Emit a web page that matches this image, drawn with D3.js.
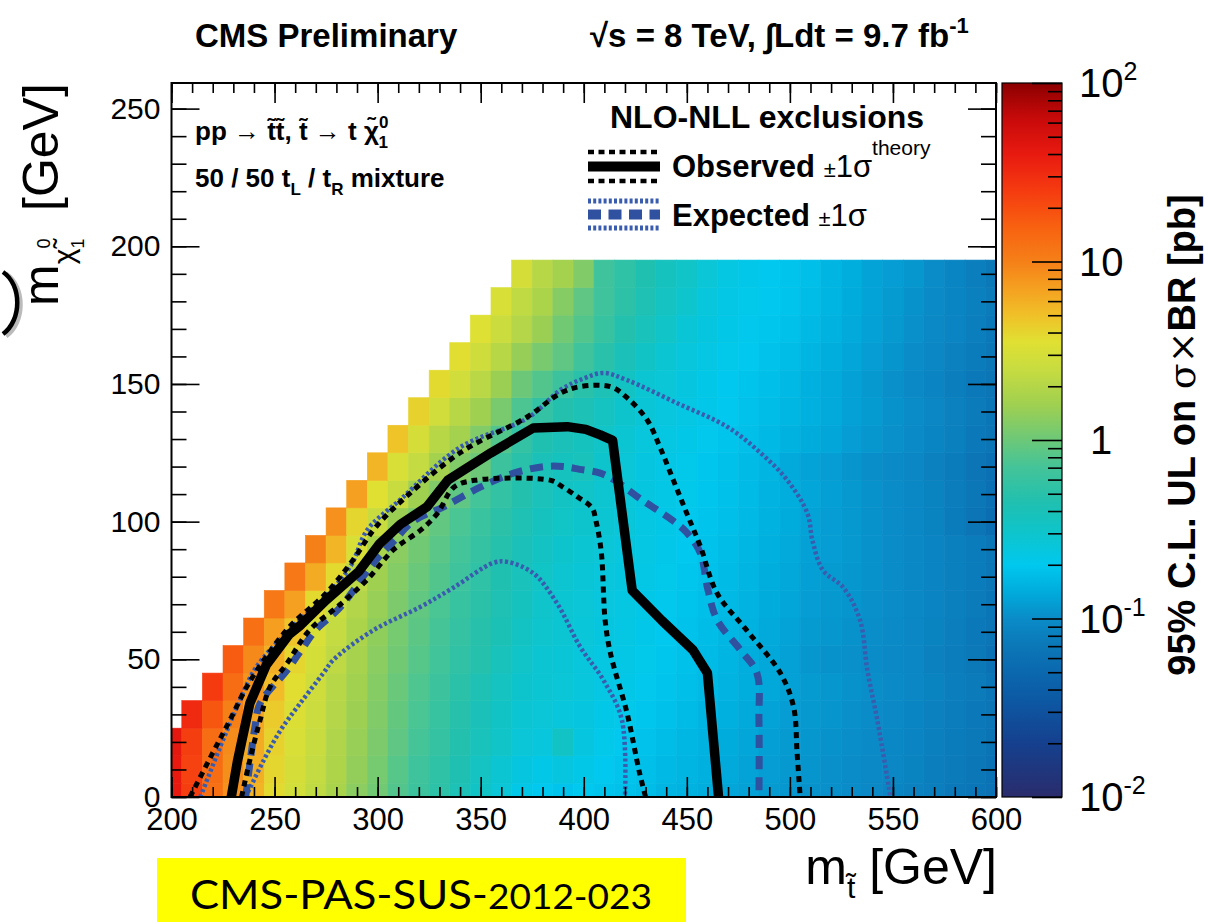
<!DOCTYPE html>
<html>
<head>
<meta charset="utf-8">
<script src="https://cdn.jsdelivr.net/npm/d3@7"></script>
<style>
body { margin: 0; background: #fff; }
text { font-family: "Liberation Sans", Arial, Helvetica, sans-serif; fill: #000; }
</style>
</head>
<body>
<svg width="1205" height="922"></svg>
<script>
// stop mass bins (GeV) and LSP mass rows (GeV)
var xBins = [200,210,220,230,240,250,260,270,280,290,300,310,320,330,340,350,360,370,380,390,
             400,410,420,430,440,450,460,470,480,490,500,510,520,530,540,550,560,570,580,590,600];
var yRows = [0,10,20,30,40,50,60,70,80,90,100,110,120,130,140,150,160,170,180,190];
// first stop mass filled in each row
var rowStart = [200,200,200,210,220,230,240,250,260,270,280,290,300,310,320,330,340,350,360,370];

// log10 of the 95% CL upper limit on sigma x BR [pb], read per cell
var ulLog10 = [
  [1.60,1.38,1.10,0.92,0.76,0.58,0.46,0.36,0.25,0.12, 0.02,-0.10,-0.20,-0.28,-0.38,-0.48,-0.58,-0.66,-0.70,-0.72,
   -0.70,-0.72,-0.74,-0.76,-0.80,-0.82,-0.84,-0.88,-0.90,-0.93, -0.95,-0.97,-0.98,-1.00,-1.02,-1.05,-1.08,-1.10,-1.14,-1.17, -1.20],
  [1.60,1.36,1.12,0.93,0.78,0.60,0.48,0.38,0.27,0.15, 0.04,-0.08,-0.18,-0.27,-0.36,-0.46,-0.55,-0.62,-0.66,-0.62,
   -0.66,-0.70,-0.72,-0.75,-0.78,-0.80,-0.83,-0.86,-0.89,-0.92, -0.94,-0.96,-0.98,-1.00,-1.02,-1.04,-1.07,-1.10,-1.13,-1.16, -1.20],
  [1.62,1.38,1.12,0.95,0.80,0.62,0.50,0.40,0.28,0.17, 0.06,-0.05,-0.15,-0.24,-0.33,-0.42,-0.50,-0.58,-0.60,-0.48,
   -0.62,-0.68,-0.70,-0.73,-0.76,-0.79,-0.82,-0.85,-0.88,-0.91, -0.93,-0.95,-0.97,-0.99,-1.01,-1.03,-1.06,-1.09,-1.12,-1.15, -1.19],
  [1.50,1.25,1.00,0.82,0.65,0.52,0.42,0.30,0.19, 0.08,-0.03,-0.13,-0.22,-0.31,-0.40,-0.48,-0.55,-0.58,-0.60,
   -0.62,-0.66,-0.68,-0.71,-0.74,-0.77,-0.80,-0.83,-0.86,-0.89, -0.92,-0.94,-0.96,-0.98,-1.00,-1.02,-1.05,-1.08,-1.11,-1.14, -1.18],
  [1.40,1.12,0.90,0.72,0.56,0.44,0.32,0.21, 0.10,-0.01,-0.11,-0.20,-0.29,-0.37,-0.45,-0.52,-0.56,-0.58,
   -0.60,-0.64,-0.66,-0.69,-0.72,-0.75,-0.78,-0.81,-0.84,-0.87, -0.90,-0.93,-0.95,-0.97,-0.99,-1.01,-1.04,-1.07,-1.10,-1.13, -1.17],
  [1.22,0.96,0.78,0.60,0.47,0.35,0.23, 0.12,0.02,-0.08,-0.17,-0.26,-0.32,-0.42,-0.50,-0.55,-0.57,
   -0.60,-0.63,-0.65,-0.68,-0.71,-0.74,-0.77,-0.80,-0.84,-0.87, -0.90,-0.95,-0.97,-0.98,-1.00,-1.02,-1.04,-1.08,-1.11,-1.15, -1.20],
  [1.10,0.86,0.68,0.50,0.38,0.26, 0.14,0.04,-0.06,-0.15,-0.24,-0.31,-0.39,-0.47,-0.53,-0.56,
   -0.59,-0.62,-0.64,-0.67,-0.70,-0.73,-0.76,-0.79,-0.82,-0.86, -0.89,-0.93,-0.95,-0.97,-0.99,-1.01,-1.04,-1.07,-1.10,-1.14, -1.18],
  [1.05,0.85,0.58,0.42,0.29, 0.17,0.06,-0.04,-0.13,-0.22,-0.29,-0.37,-0.44,-0.51,-0.55,
   -0.58,-0.61,-0.63,-0.66,-0.69,-0.72,-0.75,-0.78,-0.81,-0.85, -0.88,-0.92,-0.94,-0.96,-0.98,-1.00,-1.03,-1.06,-1.09,-1.13, -1.17],
  [1.05,0.80,0.58,0.34, 0.20,0.09,-0.01,-0.10,-0.19,-0.27,-0.35,-0.42,-0.49,-0.54,
   -0.57,-0.60,-0.62,-0.65,-0.68,-0.71,-0.74,-0.77,-0.80,-0.84, -0.87,-0.91,-0.93,-0.95,-0.97,-1.00,-1.03,-1.06,-1.09,-1.12, -1.16],
  [1.00,0.75,0.50, 0.25,0.12,0.02,-0.07,-0.16,-0.24,-0.32,-0.40,-0.47,-0.52,
   -0.55,-0.58,-0.61,-0.64,-0.67,-0.70,-0.73,-0.76,-0.79,-0.83, -0.86,-0.90,-0.92,-0.94,-0.97,-1.00,-1.03,-1.06,-1.09,-1.12, -1.16],
  [0.92,0.60, 0.40,0.18,0.06,-0.04,-0.13,-0.21,-0.29,-0.37,-0.44,-0.49,
   -0.52,-0.56,-0.59,-0.63,-0.66,-0.69,-0.72,-0.75,-0.78,-0.82, -0.85,-0.89,-0.92,-0.94,-0.97,-1.00,-1.03,-1.07,-1.12,-1.18, -1.25],
  [0.85, 0.55,0.40,0.20,0.08,-0.05,-0.16,-0.25,-0.33,-0.41,-0.47,
   -0.50,-0.54,-0.58,-0.62,-0.65,-0.68,-0.71,-0.74,-0.77,-0.81, -0.84,-0.88,-0.91,-0.94,-0.97,-1.00,-1.03,-1.07,-1.11,-1.16, -1.22],
  [0.75,0.50,0.38,0.22,0.08,0.00,-0.20,-0.30,-0.40,-0.44,
   -0.42,-0.52,-0.58,-0.62,-0.65,-0.68,-0.71,-0.74,-0.77,-0.80, -0.86,-0.89,-0.92,-0.96,-0.99,-1.01,-1.04,-1.08,-1.12,-1.18, -1.22],
  [0.68,0.48,0.32,0.22,0.08,-0.10,-0.25,-0.35,-0.40,
   -0.44,-0.50,-0.56,-0.60,-0.63,-0.66,-0.69,-0.72,-0.75,-0.78, -0.82,-0.85,-0.88,-0.92,-0.95,-0.98,-1.01,-1.05,-1.09,-1.14, -1.18],
  [0.62,0.45,0.32,0.20,0.05,-0.12,-0.25,-0.33,
   -0.38,-0.45,-0.52,-0.57,-0.61,-0.64,-0.67,-0.70,-0.73,-0.76, -0.79,-0.83,-0.86,-0.90,-0.93,-0.97,-1.00,-1.04,-1.08,-1.13, -1.17],
  [0.58,0.45,0.33,0.18,0.00,-0.10,-0.20,
   -0.30,-0.38,-0.47,-0.55,-0.58,-0.62,-0.66,-0.70,-0.72,-0.75, -0.78,-0.83,-0.86,-0.90,-0.94,-0.98,-1.02,-1.06,-1.10,-1.14, -1.18],
  [0.56,0.44,0.32,0.16,0.05,-0.05,
   -0.18,-0.30,-0.40,-0.48,-0.55,-0.60,-0.64,-0.68,-0.70,-0.73, -0.76,-0.80,-0.84,-0.88,-0.92,-0.96,-1.00,-1.04,-1.08,-1.12, -1.16],
  [0.54,0.42,0.30,0.18,0.02,
   -0.10,-0.22,-0.33,-0.42,-0.50,-0.57,-0.62,-0.66,-0.69,-0.71, -0.74,-0.78,-0.82,-0.86,-0.90,-0.94,-0.98,-1.02,-1.06,-1.10, -1.14],
  [0.50,0.36,0.26,0.10,
   -0.05,-0.18,-0.28,-0.37,-0.46,-0.53,-0.60,-0.65,-0.68,-0.70, -0.72,-0.76,-0.80,-0.85,-0.89,-0.93,-0.97,-1.01,-1.05,-1.09, -1.13],
  [0.48,0.32,0.22,
   0.08,-0.18,-0.27,-0.35,-0.44,-0.50,-0.58,-0.63,-0.67,-0.70, -0.72,-0.75,-0.80,-0.84,-0.89,-0.92,-0.95,-1.00,-1.05,-1.10, -1.15]
];

// exclusion contours [m_stop, m_LSP] in GeV
var obsCentral = [[229,0],[232,13],[238,34],[246,48],[257,59],[262,62],[275,71.5],[291,82],[301,92],[311,99],
  [324,105.4],[334,115],[355,125],[375.5,134],[392,134.5],[401,133.5],[408,131.5],[414,129.5],
  [423.5,75],[438,64],[453,53.4],[460,45],[465.4,0]];
var obsUp = [[209,0],[220,16],[228.4,28],[236.5,40],[246,51],[257.5,62],[275,74],[288,86],[298,97],[308,105],
  [340,125],[372.5,138],[388.6,146.6],[398,149],[413,149],[421,145],[430.7,137],[437,127],[443.5,115],
  [450,103],[456.6,91],[464.7,74],[479,60.6],[495.4,45],[501.8,32.7],[503.5,16],[505,0]];
var obsDown = [[234,0],[238,13.4],[243,28],[247.8,40],[256,48.5],[267,60.6],[282,70],[295,79],[308,90],[321,97],
  [329,103],[337,112.5],[347,115],[384,115],[389,113],[397,109],[404,105],[406,100],[408.5,89],[410.4,64],
  [413,52],[421,30.5],[427,9],[430,0]];
var expCentral = [[236,0],[238,12],[240.5,25.5],[243,34],[256,46],[263,53.4],[270,60.6],[282,69],[298,85],
  [308,93],[317,100],[332,105.4],[350,112.6],[366,117.6],[381,120],[390,120],[398,119],[408,117.6],
  [415,115],[428,108],[443,100.5],[450,96],[456.6,88.6],[460,76],[464.7,64.3],[476,53.4],[484,45],
  [485,28],[485,0]];
var expUp = [[214,0],[223.5,18],[232,33],[241,47],[259,62],[275,73],[287,84],[295,97],[311,108],[340,127],
  [372.5,137.5],[389,148],[400,152],[409.5,154],[421,151.4],[445.4,143],[469.7,134.4],[485.7,125],
  [498.8,115],[508.5,103],[511,93],[516,82.4],[526,76],[534,64.3],[537.6,46],[542.4,28],[548.8,0]];
var expDown = [[236,0],[244.5,13],[252.7,24],[262.4,34],[273.7,45],[278.4,49.7],[298,60.6],[320.6,69],
  [336.7,76],[356,85],[362.8,85.4],[375.5,81.3],[387,70.4],[398.3,54.5],[409.5,42.5],[418.5,28],[420,0]];

var xTicks = [200,250,300,350,400,450,500,550,600];
var yTicks = [0,50,100,150,200,250];
var zTicks = [0.01,0.1,1,10,100];
var zTickLabels = [["10","-2"],["10","-1"],["1",""],["10",""],["10","2"]];

// palette stops (log10 pb) -> colour
var palStops  = [-2,-1.7,-1.4,-1.15,-1,-0.85,-0.7,-0.5,-0.35,-0.15,0,0.2,0.4,0.55,0.7,0.85,1,1.2,1.4,1.6,1.8,2];
var palColors = ["#2a2c6c","#15408e","#0b5ea8","#0b78b8","#0a8cc8","#00acdc","#00c8ee","#10c4c8","#20c0b0",
                 "#45c498","#6cc878","#a0d050","#c8dc40","#e0e032","#f0c028","#f5a020","#f58018","#f86010",
                 "#f53a10","#e81a10","#c80a0a","#8c0000"];

var svg = d3.select("svg");

var x = d3.scaleLinear().domain([200, 600]).range([171.5, 996]);
var y = d3.scaleLinear().domain([0, 259.3]).range([797, 83]);
var z = d3.scaleLog().domain([0.01, 100]).range([797, 83]);
var color = d3.scaleLinear().domain(palStops).range(palColors).clamp(true);

var defs = svg.append("defs");
defs.append("clipPath").attr("id", "plotClip")
  .append("rect")
  .attr("x", x(200)).attr("y", y(259.3))
  .attr("width", x(600) - x(200)).attr("height", y(0) - y(259.3));

var grad = defs.append("linearGradient").attr("id", "zGrad")
  .attr("x1", 0).attr("y1", 1).attr("x2", 0).attr("y2", 0);
palStops.forEach(function(s, i) {
  grad.append("stop").attr("offset", (s + 2) / 4).attr("stop-color", palColors[i]);
});

// heat map cells
var cells = [];
yRows.forEach(function(my, i) {
  var k0 = xBins.indexOf(rowStart[i]);
  ulLog10[i].forEach(function(v, j) {
    cells.push({mx: xBins[k0 + j], my: my, v: v});
  });
});

svg.append("g").attr("clip-path", "url(#plotClip)")
  .selectAll("rect").data(cells).enter().append("rect")
  .attr("x", function(d) { return x(d.mx - 5); })
  .attr("y", function(d) { return y(d.my + 5); })
  .attr("width", function(d) { return x(d.mx + 5) - x(d.mx - 5); })
  .attr("height", function(d) { return y(d.my - 5) - y(d.my + 5); })
  .attr("fill", function(d) { return color(d.v); })
  .attr("stroke", function(d) { return color(d.v); })
  .attr("stroke-width", 0.6);

// contours
var line = d3.line().x(function(d) { return x(d[0]); }).y(function(d) { return y(d[1]); });
var smooth = d3.line().x(function(d) { return x(d[0]); }).y(function(d) { return y(d[1]); })
  .curve(d3.curveCatmullRom.alpha(0.5));

var cg = svg.append("g").attr("clip-path", "url(#plotClip)").attr("fill", "none");
[expUp, expDown].forEach(function(c) {
  cg.append("path").attr("d", smooth(c))
    .attr("stroke", "#3a5cae").attr("stroke-width", 4.5).attr("stroke-dasharray", "3,2.5");
});
cg.append("path").attr("d", smooth(expCentral))
  .attr("stroke", "#3050a0").attr("stroke-width", 7).attr("stroke-dasharray", "13,8");
[obsUp, obsDown].forEach(function(c) {
  cg.append("path").attr("d", smooth(c))
    .attr("stroke", "#000").attr("stroke-width", 5).attr("stroke-dasharray", "6,5");
});
cg.append("path").attr("d", line(obsCentral))
  .attr("stroke", "#000").attr("stroke-width", 9.5).attr("stroke-linejoin", "round");

// frame and axes
svg.append("rect")
  .attr("x", x(200)).attr("y", y(259.3))
  .attr("width", x(600) - x(200)).attr("height", y(0) - y(259.3))
  .attr("fill", "none").attr("stroke", "#000").attr("stroke-width", 2);

var xMinor = d3.range(200, 601, 10);
var yMinor = d3.range(0, 251, 10);

function drawAxis(axis, tx, ty, labels) {
  var g = svg.append("g").attr("transform", "translate(" + tx + "," + ty + ")").call(axis);
  g.select(".domain").remove();
  g.selectAll(".tick line").attr("stroke", "#000").attr("stroke-width", 1.6);
  g.selectAll("text").attr("font-family", null).attr("font-size", null);
  if (!labels) g.selectAll("text").remove();
  return g;
}

drawAxis(d3.axisBottom(x).tickValues(xMinor).tickSize(-10).tickSizeOuter(0), 0, y(0), false);
drawAxis(d3.axisTop(x).tickValues(xMinor).tickSize(-10).tickSizeOuter(0), 0, y(259.3), false);
drawAxis(d3.axisTop(x).tickValues(xTicks).tickSize(-20).tickSizeOuter(0), 0, y(259.3), false);
var xa = drawAxis(d3.axisBottom(x).tickValues(xTicks).tickSize(-20).tickSizeOuter(0).tickPadding(11), 0, y(0), true);
xa.selectAll("text").style("font-size", "31px");

drawAxis(d3.axisLeft(y).tickValues(yMinor).tickSize(-15).tickSizeOuter(0), x(200), 0, false);
drawAxis(d3.axisRight(y).tickValues(yMinor).tickSize(-15).tickSizeOuter(0), x(600), 0, false);
drawAxis(d3.axisRight(y).tickValues(yTicks).tickSize(-28).tickSizeOuter(0), x(600), 0, false);
var ya = drawAxis(d3.axisLeft(y).tickValues(yTicks).tickSize(-28).tickSizeOuter(0).tickPadding(11), x(200), 0, true);
ya.selectAll("text").style("font-size", "30px");

// colour bar
svg.append("rect").attr("x", 1002).attr("y", z(100)).attr("width", 60).attr("height", z(0.01) - z(100))
  .attr("fill", "url(#zGrad)").attr("stroke", "#000").attr("stroke-width", 1.2);
var zMinor = [];
[-2, -1, 0, 1].forEach(function(e) {
  d3.range(2, 10).forEach(function(k) { zMinor.push(k * Math.pow(10, e)); });
});
drawAxis(d3.axisRight(z).tickValues(zMinor).tickSize(-14).tickSizeOuter(0), 1062, 0, false);
drawAxis(d3.axisRight(z).tickValues(zTicks).tickSize(-30).tickSizeOuter(0), 1062, 0, false);

var zl = svg.append("g").selectAll("text").data(zTicks).enter().append("text")
  .attr("x", function(d) { return d === 1 ? 1090 : 1079; })
  .attr("y", function(d) { return z(d) + 14; })
  .style("font-size", "40px");
zl.append("tspan").text(function(d, i) { return zTickLabels[i][0]; });
zl.append("tspan").attr("dy", -17).style("font-size", "25px")
  .text(function(d, i) { return zTickLabels[i][1]; });

var zt = svg.append("text").attr("transform", "translate(1195,435) rotate(-90)")
  .attr("text-anchor", "middle").style("font-size", "38px").style("font-weight", "bold");
zt.append("tspan").text("95% C.L. UL on ");
zt.append("tspan").style("font-family", "DejaVu Serif").style("font-weight", "normal").text("σ×");
zt.append("tspan").text("BR [pb]");

// axis titles
var xt = svg.append("text").attr("x", 997).attr("y", 884).attr("text-anchor", "end").style("font-size", "50px");
xt.append("tspan").text("m");
xt.append("tspan").attr("dy", 14).style("font-size", "30px").text("t\u0303");
xt.append("tspan").attr("dy", -14).text(" [GeV]");

var yt = svg.append("text").attr("transform", "translate(58,306) rotate(-90)").style("font-size", "50px");
yt.append("tspan").text("m");
yt.append("tspan").attr("dy", 16).style("font-size", "30px").text("\u03c7\u0303");
yt.append("tspan").attr("dy", -24).style("font-size", "18px").text("0");
yt.append("tspan").attr("dx", -10).attr("dy", 34).style("font-size", "18px").text("1");
svg.append("text").attr("transform", "translate(58,211) rotate(-90)").style("font-size", "50px").text("[GeV]");

// header
svg.append("text").attr("x", 195).attr("y", 47).style("font-size", "33px").style("font-weight", "bold")
  .text("CMS Preliminary");
var hr = svg.append("text").attr("x", 590).attr("y", 47).style("font-size", "33px").style("font-weight", "bold");
hr.append("tspan").text("\u221as = 8 TeV, \u222bLdt = 9.7 fb");
hr.append("tspan").attr("dy", -14).style("font-size", "22px").text("-1");

// process labels
var p1 = svg.append("text").attr("x", 195).attr("y", 140).style("font-size", "26px").style("font-weight", "bold");
p1.append("tspan").text("pp \u2192 t\u0303t\u0303, t\u0303 \u2192 t \u03c7\u0303");
p1.append("tspan").attr("dy", -12).style("font-size", "17px").text("0");
p1.append("tspan").attr("dx", -10).attr("dy", 20).style("font-size", "17px").text("1");
var p2 = svg.append("text").attr("x", 195).attr("y", 187).style("font-size", "26px").style("font-weight", "bold");
p2.append("tspan").text("50 / 50 t");
p2.append("tspan").attr("dy", 8).style("font-size", "17px").text("L");
p2.append("tspan").attr("dy", -8).text(" / t");
p2.append("tspan").attr("dy", 8).style("font-size", "17px").text("R");
p2.append("tspan").attr("dy", -8).text(" mixture");

// legend
svg.append("text").attr("x", 610).attr("y", 128).style("font-size", "32px").style("font-weight", "bold")
  .text("NLO-NLL exclusions");
var lg = svg.append("g").attr("fill", "none");
[152, 181].forEach(function(ly) {
  lg.append("line").attr("x1", 588).attr("x2", 660).attr("y1", ly).attr("y2", ly)
    .attr("stroke", "#000").attr("stroke-width", 4.5).attr("stroke-dasharray", "6,4.5");
});
lg.append("line").attr("x1", 588).attr("x2", 660).attr("y1", 166.5).attr("y2", 166.5)
  .attr("stroke", "#000").attr("stroke-width", 10);
[201, 228].forEach(function(ly) {
  lg.append("line").attr("x1", 588).attr("x2", 660).attr("y1", ly).attr("y2", ly)
    .attr("stroke", "#3a5cae").attr("stroke-width", 5).attr("stroke-dasharray", "3,2.2");
});
lg.append("line").attr("x1", 588).attr("x2", 660).attr("y1", 214.5).attr("y2", 214.5)
  .attr("stroke", "#3050a0").attr("stroke-width", 10).attr("stroke-dasharray", "13,7.5");

var lo = svg.append("text").attr("x", 672).attr("y", 177).style("font-size", "31px").style("font-weight", "bold");
lo.append("tspan").text("Observed ");
lo.append("tspan").style("font-weight", "normal").style("font-size", "22px").text("\u00b1");
lo.append("tspan").style("font-weight", "normal").text("1\u03c3");
lo.append("tspan").attr("dy", -22).style("font-size", "21px").style("font-weight", "normal").text("theory");
var le = svg.append("text").attr("x", 672).attr("y", 226).style("font-size", "31px").style("font-weight", "bold");
le.append("tspan").text("Expected ");
le.append("tspan").style("font-weight", "normal").style("font-size", "22px").text("\u00b1");
le.append("tspan").style("font-weight", "normal").text("1\u03c3");

// slide leftovers: reference box and bracket
svg.append("rect").attr("x", 157).attr("y", 858).attr("width", 529).attr("height", 64).attr("fill", "#ffff00");
var ref = svg.append("text").attr("x", 190).attr("y", 909).style("font-family", "Lato").style("font-size", "40px")
  .attr("textLength", 462).attr("lengthAdjust", "spacingAndGlyphs");
ref.append("tspan").text("CMS-PAS-SUS-");
ref.append("tspan").style("font-size", "34px").text("2012-023");

svg.append("path").attr("d", "M 3 272 C 22 285, 22 320, 3 334").attr("fill", "none")
  .attr("stroke", "#bbb").attr("stroke-width", 5).attr("transform", "translate(3,2)");
svg.append("path").attr("d", "M 3 272 C 22 285, 22 320, 3 334").attr("fill", "none")
  .attr("stroke", "#000").attr("stroke-width", 4.5);
</script>
</body>
</html>
